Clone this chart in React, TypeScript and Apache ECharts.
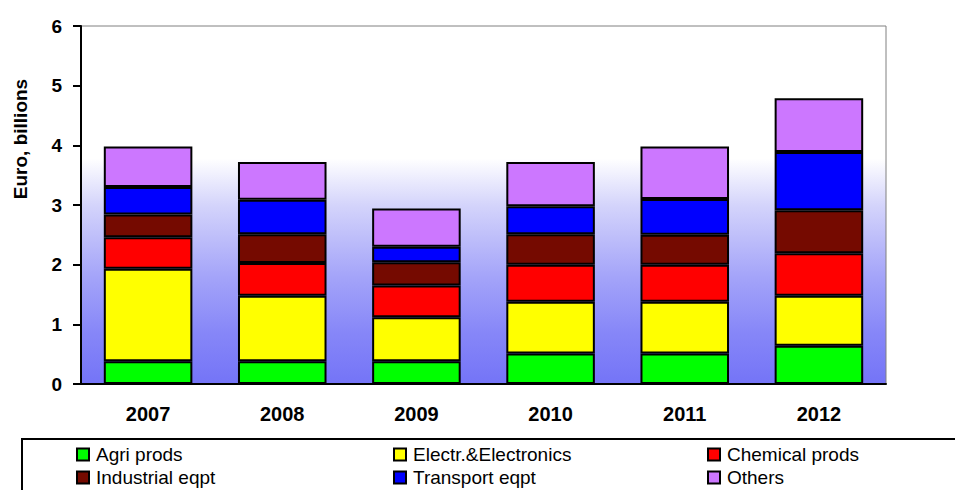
import React, { useEffect, useRef } from "react";
import * as echarts from "echarts";

const years = ["2007", "2008", "2009", "2010", "2011", "2012"];
const agriProds = [0.38, 0.38, 0.38, 0.51, 0.51, 0.64];
const electronics = [1.55, 1.1, 0.74, 0.87, 0.87, 0.84];
const chemicalProds = [0.53, 0.55, 0.53, 0.62, 0.62, 0.71];
const industrialEqpt = [0.38, 0.48, 0.39, 0.51, 0.5, 0.72];
const transportEqpt = [0.46, 0.58, 0.26, 0.47, 0.6, 0.98];
const others = [0.68, 0.63, 0.64, 0.74, 0.88, 0.9];
const yTicks = [0, 1, 2, 3, 4, 5, 6];
const yTitle = "Euro, billions";

const FONT = "'Liberation Sans', Arial, sans-serif";

const seriesDefs = [
  { name: "Agri prods", data: agriProds, color: "#00ff00" },
  { name: "Electr.&Electronics", data: electronics, color: "#ffff00" },
  { name: "Chemical prods", data: chemicalProds, color: "#ff0000" },
  { name: "Industrial eqpt", data: industrialEqpt, color: "#750a00" },
  { name: "Transport eqpt", data: transportEqpt, color: "#0000ff" },
  { name: "Others", data: others, color: "#cc77ff" },
];

const legendColumns = [
  { left: 76, names: ["Agri prods", "Industrial eqpt"] },
  { left: 393, names: ["Electr.&Electronics", "Transport eqpt"] },
  { left: 707, names: ["Chemical prods", "Others"] },
];

export default function App() {
  const ref = useRef<HTMLDivElement>(null);

  useEffect(() => {
    if (!ref.current) return;
    const chart = echarts.init(ref.current, undefined, { renderer: "svg" });

    chart.setOption({
      animation: false,
      backgroundColor: "#ffffff",
      graphic: [
        {
          type: "rect",
          z: -10,
          shape: { x: 22, y: 439, width: 960, height: 80 },
          style: { fill: "#ffffff", stroke: "#000000", lineWidth: 2 },
        },
        {
          type: "text",
          x: 20,
          y: 139,
          rotation: Math.PI / 2,
          style: {
            text: yTitle,
            fontFamily: FONT,
            fontWeight: "bold",
            fontSize: 19,
            fill: "#000000",
            align: "center",
            verticalAlign: "middle",
          },
        },
      ],
      grid: {
        left: 81,
        top: 26,
        right: 69,
        bottom: 106,
        show: true,
        borderColor: "#808080",
        borderWidth: 1,
        backgroundColor: new echarts.graphic.LinearGradient(0, 0, 0, 1, [
          { offset: 0, color: "#ffffff" },
          { offset: 0.37, color: "#ffffff" },
          { offset: 0.5, color: "#d4d4fb" },
          { offset: 0.7, color: "#a4a4f9" },
          { offset: 0.86, color: "#8686f8" },
          { offset: 1, color: "#7474f7" },
        ]),
      },
      legend: legendColumns.map((col) => ({
        data: col.names,
        orient: "vertical",
        left: col.left,
        top: 445,
        itemWidth: 12,
        itemHeight: 12,
        itemGap: 4,
        icon: "rect",
        padding: 0,
        textStyle: {
          fontFamily: FONT,
          fontSize: 19,
          lineHeight: 19,
          color: "#000000",
          padding: [0, 0, 0, 2],
        },
      })),
      xAxis: {
        type: "category",
        data: years,
        axisLine: { lineStyle: { color: "#000000", width: 2 } },
        axisTick: { length: 6, lineStyle: { color: "#000000", width: 2 } },
        axisLabel: {
          fontFamily: FONT,
          fontWeight: "bold",
          fontSize: 20,
          color: "#000000",
          margin: 20,
        },
      },
      yAxis: {
        type: "value",
        min: yTicks[0],
        max: yTicks[yTicks.length - 1],
        interval: 1,
        axisLine: { show: true, lineStyle: { color: "#000000", width: 2 } },
        axisTick: { show: true, length: 8, lineStyle: { color: "#000000", width: 2 } },
        splitLine: { show: false },
        axisLabel: {
          fontFamily: FONT,
          fontWeight: "bold",
          fontSize: 19,
          color: "#000000",
          margin: 19,
        },
      },
      series: seriesDefs.map((s) => ({
        name: s.name,
        type: "bar",
        stack: "total",
        barWidth: "66%",
        data: s.data,
        itemStyle: { color: s.color, borderColor: "#000000", borderWidth: 2 },
      })),
    });

    return () => chart.dispose();
  }, []);

  return (
    <div
      ref={ref}
      style={{ position: "fixed", left: 0, top: 0, width: 955, height: 490 }}
    />
  );
}
